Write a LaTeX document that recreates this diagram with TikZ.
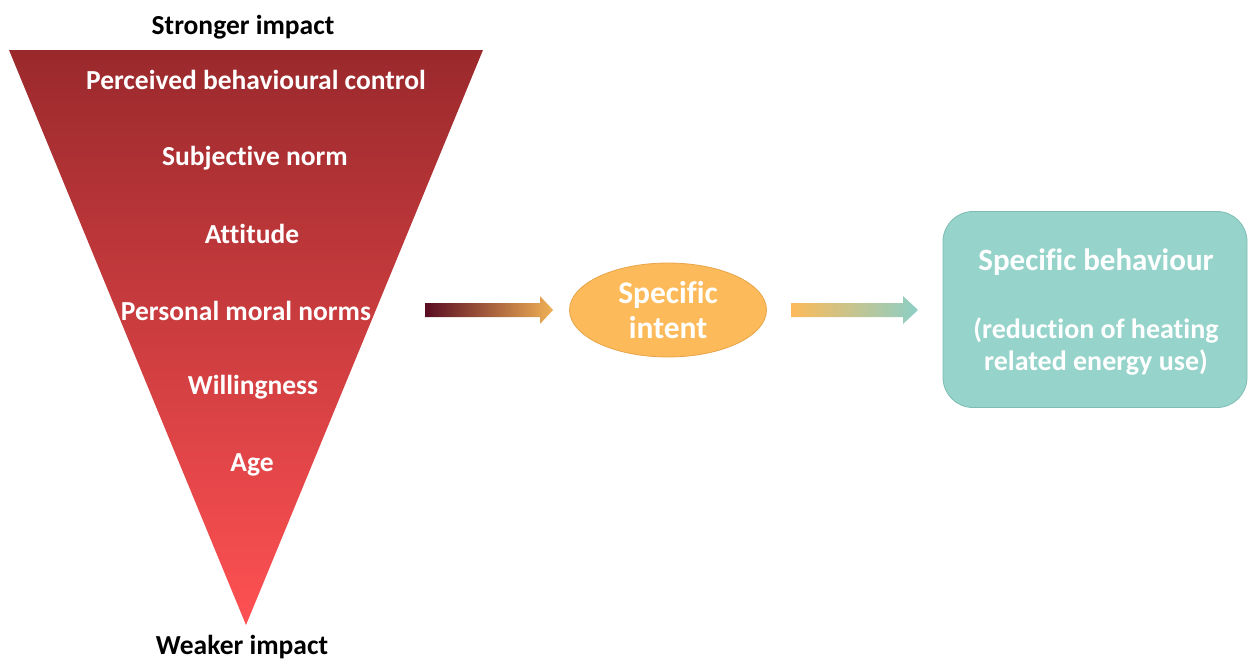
\documentclass[tikz,border=0pt]{standalone}
\usepackage{fontspec}
\setmainfont[Ligatures=NoCommon]{Carlito}
\usetikzlibrary{shapes.geometric}
\definecolor{tritop}{HTML}{9A292C}
\definecolor{tribot}{HTML}{FF5153}
\definecolor{maroon}{HTML}{5A0C22}
\definecolor{orng}{HTML}{FCBA5A}
\definecolor{orngline}{HTML}{E8A54A}
\definecolor{peach}{HTML}{EED2A4}
\definecolor{teal}{HTML}{96D4CB}
\definecolor{tealarrow}{HTML}{8CCFC6}
\definecolor{tealline}{HTML}{7FBDB4}
\tikzset{
  lab/.style={font=\bfseries\fontsize{27.5}{30}\selectfont, text=white, inner sep=0pt},
  outer/.style={font=\bfseries\fontsize{27.5}{30}\selectfont, text=black, inner sep=0pt},
}
\begin{document}
\begin{tikzpicture}[x=1pt,y=-1pt]
\useasboundingbox (0,0) rectangle (1248,662);
% funnel
\coordinate (tl) at (9,50);
\coordinate (tr) at (483,50);
\coordinate (tip) at (246,625);
\shade[top color=tritop, bottom color=tribot] (tl) -- (tr) -- (tip) -- cycle;
\node[outer] (strong) at (243,27) {Stronger impact};
\node[outer] (weak) at (242,647.5) {Weaker impact};
\node[lab] (pbc) at (256,80) {Perceived behavioural control};
\node[lab] (sn) at (255,158) {Subjective norm};
\node[lab] (att) at (252,234) {Attitude};
\node[lab] (pmn) at (246,311) {Personal moral norms};
\node[lab] (will) at (253,387) {Willingness};
\node[lab] (age) at (252,465) {Age};
% intent
\node[ellipse, fill=orng, draw=orngline, line width=0.8pt, minimum width=197pt, minimum height=94pt, inner sep=0pt,
  align=center, text=white, font=\bfseries\fontsize{31.5}{35}\selectfont] (intent) at (668,310) {Specific\\intent};
% behaviour
\node[rectangle, rounded corners=30pt, fill=teal, draw=tealline, line width=0.8pt, minimum width=304pt, minimum height=196pt,
  inner sep=0pt] (beh) at (1095,309.5) {};
\node[font=\bfseries\fontsize{31}{34}\selectfont, text=white, inner sep=0pt] (behT) at (1096,262) {Specific behaviour};
\node[font=\bfseries\fontsize{28}{32}\selectfont, text=white, inner sep=0pt, align=center] (behD) at (1096,346) {(reduction of heating\\related energy use)};
% arrows
\coordinate (a1s) at (425,310);
\coordinate (a1e) at (553,310);
\shade[left color=maroon, right color=orng!95!black]
  ([shift={(0,-7)}]a1s) -- ++(115,0) -- ++(0,-7) -- (a1e) -- ++(-13,14) -- ++(0,-7) -- ([shift={(0,7)}]a1s) -- cycle;
\coordinate (a2s) at (791,310);
\coordinate (a2e) at (918,310);
\shade[left color=orng, middle color=peach, right color=tealarrow]
  ([shift={(0,-7)}]a2s) -- ++(112,0) -- ++(0,-7) -- (a2e) -- ++(-15,14) -- ++(0,-7) -- ([shift={(0,7)}]a2s) -- cycle;
\end{tikzpicture}
\end{document}
